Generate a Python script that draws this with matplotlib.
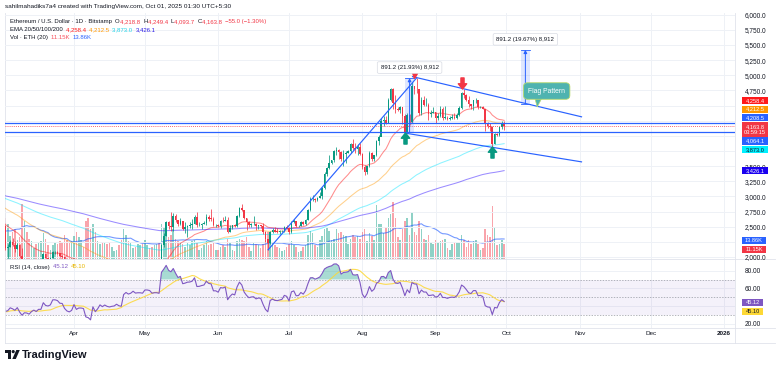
import numpy as np
import pandas as pd
import matplotlib
matplotlib.use("Agg")
import matplotlib.pyplot as plt
from matplotlib.path import Path
from matplotlib.patches import Rectangle, Polygon, Ellipse
from matplotlib.lines import Line2D

plt.rcParams['font.family'] = ['Liberation Sans', 'DejaVu Sans']

# ------------------------------------------------------------------ data
start_date = "2025-02-14"
first_open = 2680.0

closes = [
    # Feb 14-28
    2725, 2690, 2660, 2745, 2670, 2715, 2740, 2660, 2765, 2820, 2510, 2490, 2340, 2310, 2240,
    # Mar
    2220, 2520, 2150, 2170, 2240, 2200, 2140, 2200, 2020, 1865, 1920, 1910, 1860, 1910, 1940, 1890,
    1930, 1930, 2055, 1980, 1965, 1985, 2080, 2080, 2065, 2010, 2005, 1895, 1830, 1805, 1825,
    # Apr
    1905, 1795, 1815, 1815, 1805, 1580, 1555, 1475, 1670, 1520, 1570, 1645, 1595, 1625, 1590,
    1575, 1585, 1590, 1615, 1585, 1575, 1755, 1795, 1770, 1785, 1820, 1795, 1800, 1800, 1795,
    # May
    1840, 1840, 1835, 1810, 1815, 1815, 1810, 2205, 2345, 2580, 2515, 2495, 2680, 2610, 2545, 2590,
    2470, 2490, 2520, 2525, 2550, 2660, 2525, 2530, 2550, 2565, 2665, 2635, 2630, 2530, 2530,
    # Jun
    2510, 2600, 2595, 2615, 2420, 2480, 2525, 2510, 2680, 2815, 2770, 2645, 2580, 2530, 2545,
    2550, 2510, 2525, 2520, 2410, 2295, 2230, 2420, 2445, 2420, 2415, 2425, 2435, 2500, 2485,
    # Jul
    2410, 2570, 2590, 2510, 2515, 2570, 2545, 2610, 2770, 2955, 2960, 2940, 2970, 3010, 3140, 3370,
    3475, 3545, 3595, 3755, 3765, 3740, 3625, 3705, 3720, 3745, 3870, 3795, 3790, 3810, 3700,
    # Aug
    3485, 3400, 3500, 3720, 3610, 3680, 3910, 3975, 4250, 4260, 4220, 4600, 4770, 4550, 4440, 4430,
    4480, 4320, 4070, 4340, 4230, 4830, 4780, 4770, 4380, 4600, 4510, 4510, 4360, 4370, 4390,
    # Sep
    4300, 4330, 4450, 4300, 4300, 4270, 4300, 4310, 4300, 4350, 4460, 4710, 4670, 4600, 4520,
    4500, 4590, 4590, 4470, 4480, 4450, 4200, 4160, 4150, 3870, 4030, 4010, 4140, 4218.8, 4163.8,
]
highs = [
    2790, 2740, 2720, 2845, 2760, 2740, 2770, 2850, 2780, 2850, 2830, 2540, 2530, 2370, 2290,
    2275, 2550, 2525, 2220, 2280, 2320, 2260, 2230, 2210, 2150, 1960, 1950, 1925, 1940, 1950, 1940,
    1950, 1945, 2065, 2060, 2000, 2000, 2095, 2105, 2095, 2065, 2040, 2020, 1915, 1840, 1860,
    1925, 1955, 1825, 1850, 1820, 1815, 1640, 1620, 1690, 1670, 1590, 1655, 1690, 1690, 1660,
    1600, 1610, 1600, 1620, 1615, 1660, 1770, 1830, 1800, 1830, 1830, 1830, 1820, 1835, 1815,
    1875, 1860, 1850, 1845, 1830, 1830, 1850, 2215, 2400, 2595, 2595, 2735, 2725, 2715, 2615, 2650,
    2600, 2580, 2525, 2570, 2635, 2690, 2735, 2580, 2560, 2595, 2715, 2690, 2790, 2660, 2545,
    2540, 2610, 2660, 2680, 2660, 2525, 2535, 2540, 2690, 2830, 2880, 2780, 2645, 2590, 2555,
    2680, 2560, 2535, 2530, 2555, 2425, 2300, 2435, 2485, 2490, 2475, 2450, 2450, 2505, 2530,
    2495, 2600, 2635, 2590, 2525, 2590, 2595, 2620, 2785, 2995, 3020, 2970, 2995, 3080, 3160, 3410,
    3480, 3680, 3600, 3765, 3810, 3780, 3750, 3760, 3745, 3760, 3880, 3940, 3880, 3860, 3885,
    3720, 3515, 3510, 3745, 3730, 3690, 3930, 4020, 4300, 4330, 4330, 4630, 4790, 4785, 4670, 4475,
    4490, 4430, 4355, 4380, 4360, 4890, 4830, 4955, 4770, 4635, 4665, 4620, 4550, 4420, 4480,
    4390, 4370, 4490, 4480, 4490, 4320, 4320, 4360, 4380, 4380, 4485, 4720, 4770, 4690, 4650,
    4530, 4600, 4630, 4595, 4500, 4490, 4450, 4230, 4220, 4160, 4050, 4050, 4150, 4240, 4249.4,
]
lows = [
    2660, 2670, 2650, 2650, 2590, 2660, 2700, 2620, 2650, 2750, 2490, 2310, 2300, 2250, 2075,
    2170, 2145, 2110, 1990, 2160, 2180, 2080, 2130, 1990, 1810, 1755, 1825, 1830, 1860, 1905, 1870,
    1880, 1890, 1920, 1960, 1945, 1960, 1980, 2055, 2045, 1995, 1985, 1855, 1815, 1780, 1790,
    1820, 1770, 1760, 1775, 1780, 1545, 1410, 1450, 1385, 1475, 1505, 1545, 1570, 1605, 1585,
    1540, 1565, 1575, 1585, 1565, 1570, 1570, 1740, 1735, 1760, 1780, 1785, 1740, 1790, 1760,
    1790, 1820, 1825, 1795, 1790, 1760, 1790, 1805, 2170, 2340, 2470, 2430, 2430, 2570, 2510, 2530,
    2450, 2390, 2325, 2485, 2465, 2545, 2500, 2505, 2465, 2540, 2535, 2600, 2600, 2505, 2500,
    2490, 2480, 2585, 2595, 2390, 2410, 2470, 2490, 2495, 2660, 2755, 2620, 2440, 2500, 2500,
    2530, 2450, 2455, 2485, 2385, 2250, 2110, 2215, 2390, 2410, 2395, 2385, 2420, 2420, 2470,
    2375, 2390, 2565, 2490, 2490, 2515, 2530, 2525, 2605, 2765, 2920, 2910, 2930, 2970, 2960, 3130,
    3330, 3460, 3530, 3570, 3680, 3620, 3580, 3510, 3560, 3710, 3720, 3770, 3720, 3680, 3680,
    3460, 3355, 3370, 3490, 3580, 3590, 3670, 3850, 3990, 4170, 4190, 4215, 4580, 4450, 4380, 4410,
    4380, 4200, 4060, 4065, 4200, 4215, 4690, 4710, 4345, 4350, 4500, 4490, 4260, 4315, 4380,
    4220, 4260, 4310, 4260, 4270, 4260, 4255, 4280, 4270, 4285, 4330, 4440, 4630, 4580, 4470,
    4440, 4420, 4550, 4450, 4460, 4440, 4080, 4130, 4080, 3820, 3860, 3990, 3990, 4110, 4093.7,
]
volumes_k = [
    12, 8, 9, 14, 15, 11, 12, 25, 13, 10, 28, 35, 30, 24, 33,
    22, 40, 30, 26, 17, 20, 22, 14, 16, 41, 28, 20, 15, 13, 8, 11, 12, 13, 19, 15, 10, 7, 10, 12, 11,
    13, 12, 18, 14, 12, 13,
    17, 20, 16, 14, 9, 28, 30, 22, 26, 20, 13, 11, 12, 12, 11, 12, 9, 6, 7, 10, 14, 22, 18, 13, 12,
    8, 9, 11, 10, 11,
    14, 10, 8, 9, 10, 11, 12, 26, 24, 20, 16, 18, 22, 15, 13, 12, 11, 9, 12, 10, 13, 14, 12, 7, 8,
    10, 13, 10, 11, 12, 7,
    7, 9, 10, 9, 15, 12, 7, 6, 13, 15, 14, 13, 16, 9, 6, 12, 11, 10, 8, 11, 14, 20, 18, 12, 10,
    9, 8, 6, 7, 9,
    11, 13, 10, 9, 5, 6, 9, 10, 18, 21, 19, 10, 9, 14, 17, 22, 23, 21, 14, 15, 22, 19, 20, 18, 17,
    11, 15, 18, 16, 17, 15,
    20, 22, 13, 19, 17, 14, 40, 26, 26, 19, 24, 30, 33, 42, 30, 16, 14, 22, 28, 30, 18, 35, 20, 18,
    28, 22, 15, 14, 18, 12, 11,
    14, 12, 13, 14, 15, 8, 7, 11, 12, 12, 12, 18, 14, 9, 14, 11, 13, 14, 11, 7, 8, 22, 18, 16, 39,
    24, 10, 11, 14, 11.15,
]

ema_lengths = [20, 50, 100, 200]
ema_seeds = [2900.0, 3100.0, 3150.0, 3100.0]
ema_colors = ["#ff0000", "#ff9800", "#00e5ff", "#2200ff"]

month_starts = ["2025-04-01", "2025-05-01", "2025-06-01", "2025-07-01", "2025-08-01",
                "2025-09-01", "2025-10-01", "2025-11-01", "2025-12-01", "2026-01-01"]
month_labels = ["Apr", "May", "Jun", "Jul", "Aug", "Sep", "Oct", "Nov", "Dec", "2026"]

price_grid = list(range(2000, 6001, 250))
price_labels_shown = [2000, 2500, 2750, 3000, 3250, 3500, 4750, 5000, 5250, 5500, 5750, 6000]
rsi_grid = [20, 40, 60, 80]
rsi_labels_shown = [20, 60, 80]

# chart drawings: (date, price)
rising_line = [("2025-06-22", 2112.0), ("2025-08-24", 4958.0)]
flag_upper = [("2025-08-22", 4980.0), ("2025-11-02", 4312.0)]
flag_lower = [("2025-08-19", 4046.0), ("2025-11-02", 3569.0)]
support_levels = [4208.5, 4064.1]
last_price = 4163.8
range_boxes = [("2025-08-19", "2025-08-23", 4064.1, 4955.3, "891.2 (21.93%) 8,912"),
               ("2025-10-07", "2025-10-11", 4530.0, 5421.2, "891.2 (19.67%) 8,912")]
up_arrows = [("2025-08-19", 3965.0), ("2025-09-25", 3727.0)]
down_arrows = [("2025-09-12", 4873.0)]
peak_marker = ("2025-08-23", 5005.0)
callout = ("2025-10-18", 4740.0, "Flag Pattern")
callout_tail = [("2025-10-13", 4625.0), ("2025-10-16", 4625.0), ("2025-10-14", 4476.0)]

# ------------------------------------------------------------------ helpers
W, H = 780, 370
fig = plt.figure(figsize=(W / 100, H / 100), dpi=100, facecolor="white")


def fx(px):
    return px / W


def fy(py):
    return 1 - py / H


ref = pd.Timestamp("2025-04-01")


def dnum(s):
    return (pd.Timestamp(s) - ref).days


dates = pd.date_range(start_date, periods=len(closes), freq="D")
xd = np.asarray((dates - ref).days, dtype=float)
c = np.array(closes, float)
h = np.array(highs, float)
lo = np.array(lows, float)
o = np.concatenate([[first_open], c[:-1]])
v = np.array(volumes_k, float)
up = c >= o


def ema(values, n, seed):
    a = 2.0 / (n + 1)
    out = np.empty(len(values))
    e = seed
    for i, val in enumerate(values):
        e = e + a * (val - e)
        out[i] = e
    return out


def rsi_calc(values, n=14):
    d = np.diff(values)
    g = np.clip(d, 0, None)
    ls = np.clip(-d, 0, None)
    out = np.full(len(values), np.nan)
    ag = g[:n].mean()
    al = ls[:n].mean()
    out[n] = 100 - 100 / (1 + ag / al)
    for i in range(n + 1, len(values)):
        ag = (ag * (n - 1) + g[i - 1]) / n
        al = (al * (n - 1) + ls[i - 1]) / n
        out[i] = 100 - 100 / (1 + ag / al)
    return out


rsi = rsi_calc(c)
rsi_ma = pd.Series(rsi).rolling(14, min_periods=1).mean().values
vma = pd.Series(v).rolling(20, min_periods=1).mean().values

# ------------------------------------------------------------------ axes
PL, PR = 5, 735
MT, MB = 13, 259
RT, RB = 259, 328
XLIM = (-29.2, 279.7)

rect_main = [fx(PL), fy(MB), (PR - PL) / W, (MB - MT) / H]
vax = fig.add_axes(rect_main, zorder=1)
ax = fig.add_axes(rect_main, zorder=2, sharex=vax)
ax.patch.set_alpha(0)
rax = fig.add_axes([fx(PL), fy(RB), (PR - PL) / W, (RB - RT) / H], sharex=vax)

for a_ in (ax, vax, rax):
    for sp in a_.spines.values():
        sp.set_visible(False)

vax.set_xlim(*XLIM)
ax.set_ylim(1967, 6028)
vax.set_ylim(0, 182)
rax.set_ylim(15.4, 93.1)

GRID = "#eef1f6"
month_days = [dnum(m) for m in month_starts]
for md in month_days:
    vax.axvline(md, color=GRID, lw=0.7, zorder=0)
    rax.axvline(md, color=GRID, lw=0.7, zorder=0)
for p in price_grid:
    ax.axhline(p, color=GRID, lw=0.7, zorder=0)
for r in rsi_grid:
    rax.axhline(r, color=GRID, lw=0.7, zorder=0)

# ticks
vax.set_yticks([])
vax.tick_params(axis="x", length=0, labelbottom=False)
ax.tick_params(axis="x", length=0, labelbottom=False)
ax.yaxis.tick_right()
ax.set_yticks(price_grid)
ax.set_yticklabels([f"{p:,.1f}" if p in price_labels_shown else "" for p in price_grid])
ax.tick_params(axis="y", length=0, pad=7, labelsize=4.7, labelcolor="#131722")
rax.yaxis.tick_right()
rax.set_yticks(rsi_grid)
rax.set_yticklabels([f"{r:.2f}" if r in rsi_labels_shown else "" for r in rsi_grid])
rax.tick_params(axis="y", length=0, pad=7, labelsize=4.7, labelcolor="#131722")
rax.set_xticks(month_days)
rax.set_xticklabels(month_labels)
rax.tick_params(axis="x", length=0, pad=2.3, labelsize=4.6, labelcolor="#131722")
rax.get_xticklabels()[-1].set_fontweight("bold")

# ------------------------------------------------------------------ volume
UP, DN = "#089981", "#f23645"
vcols = np.where(up, UP, DN)
vax.bar(xd, v, width=0.65, color=vcols, alpha=0.45, lw=0, zorder=2)
vax.plot(xd, vma, color="#2962ff", lw=0.8, alpha=0.65, zorder=3)

# ------------------------------------------------------------------ EMAs
for n, seed, col in zip(ema_lengths, ema_seeds, ema_colors):
    ax.plot(xd, ema(c, n, seed), color=col, lw=0.75, alpha=0.45, zorder=2)

# ------------------------------------------------------------------ candles
ccols = np.where(up, UP, DN)
ax.vlines(xd, lo, h, colors=ccols, lw=0.55, zorder=3)
body = np.maximum(np.abs(c - o), 6)
ax.bar(xd, body, bottom=np.minimum(o, c), width=0.68, color=ccols, lw=0, zorder=4)

# ------------------------------------------------------------------ levels & drawings
BLUE = "#2962ff"
for lv in support_levels:
    ax.axhline(lv, color=BLUE, lw=0.9, zorder=5)
ax.axhline(last_price, color=DN, lw=0.6, ls=(0, (1, 1.5)), zorder=5)

for line in (rising_line, flag_upper, flag_lower):
    ax.plot([dnum(line[0][0]), dnum(line[1][0])], [line[0][1], line[1][1]],
            color=BLUE, lw=0.85, zorder=6, solid_capstyle="butt")

for d1, d2, p1, p2, lab in range_boxes:
    x1, x2 = dnum(d1), dnum(d2)
    ax.add_patch(Rectangle((x1, p1), x2 - x1, p2 - p1, fc=BLUE, alpha=0.15, lw=0, zorder=5))
    ax.plot([x1, x2], [p1, p1], color=BLUE, lw=0.6, zorder=6)
    ax.plot([x1, x2], [p2, p2], color=BLUE, lw=0.6, zorder=6)
    xm = (x1 + x2) / 2
    ax.annotate("", xy=(xm, p2), xytext=(xm, p1),
                arrowprops=dict(arrowstyle="-|>", color=BLUE, lw=0.7, mutation_scale=5,
                                shrinkA=0, shrinkB=0), zorder=6)
    ax.annotate(lab, xy=(xm, p2), xytext=(0, 7.5), textcoords="offset points",
                ha="center", va="center", fontsize=4.3, color="#131722", zorder=9,
                bbox=dict(boxstyle="round,pad=0.55,rounding_size=0.25", fc="white",
                          ec="#d8dbe3", lw=0.5))

up_path = Path([(0, 1), (0.75, 0.05), (0.28, 0.05), (0.28, -1), (-0.28, -1),
                (-0.28, 0.05), (-0.75, 0.05), (0, 1)], closed=True)
down_path = Path([(xv, -yv) for xv, yv in up_path.vertices], closed=True)
for dt, p in up_arrows:
    ax.plot([dnum(dt)], [p], marker=up_path, ms=8, color=UP, ls="none", zorder=7)
for dt, p in down_arrows:
    ax.plot([dnum(dt)], [p], marker=down_path, ms=8, color=DN, ls="none", zorder=7)
ax.plot([dnum(peak_marker[0])], [peak_marker[1]], marker="v", ms=3.6, color=DN,
        ls="none", zorder=7)

ax.add_patch(Polygon([(dnum(dt), p) for dt, p in callout_tail], closed=True,
                     fc="#4fb3b0", ec="#b8d96c", lw=0.5, zorder=8))
ax.text(dnum(callout[0]), callout[1], callout[2], ha="center", va="center", fontsize=4.9,
        color="white", zorder=9,
        bbox=dict(boxstyle="round,pad=0.7,rounding_size=0.6", fc="#4fb3b0", ec="#b8d96c", lw=0.6))

# ------------------------------------------------------------------ RSI pane
PURP = "#7e57c2"
rax.axhspan(30, 70, color=PURP, alpha=0.08, lw=0, zorder=1)
for lvl in (70, 50, 30):
    rax.axhline(lvl, color="#9598a1", lw=0.5, ls=(0, (2, 2)), zorder=2)
rax.fill_between(xd, rsi, 70, where=rsi > 70, interpolate=True, color=UP, alpha=0.35,
                 lw=0, zorder=2)
rax.plot(xd, rsi_ma, color="#fdd835", lw=0.8, alpha=0.85, zorder=3)
rax.plot(xd, rsi, color=PURP, lw=0.8, zorder=4)

# ------------------------------------------------------------------ frame lines
def hline_px(y, x0, x1, col="#e0e3eb", lw=0.6):
    fig.add_artist(Line2D([fx(x0), fx(x1)], [fy(y), fy(y)], transform=fig.transFigure,
                          color=col, lw=lw))


def vline_px(x, y0, y1, col="#e0e3eb", lw=0.6):
    fig.add_artist(Line2D([fx(x), fx(x)], [fy(y0), fy(y1)], transform=fig.transFigure,
                          color=col, lw=lw))


hline_px(MB, PL, 775)
hline_px(RB, PL, 775)
hline_px(343, PL, 775)
vline_px(PL, MT, 343)
vline_px(PR, MT, 343)

# ------------------------------------------------------------------ tags on price scale
def tag(yc, text, bg, fg, w=26, hgt=7.2):
    fig.add_artist(Rectangle((fx(742), fy(yc + hgt / 2)), w / W, hgt / H,
                             transform=fig.transFigure, fc=bg, ec="none", zorder=20))
    fig.text(fx(742 + w / 2), fy(yc), text, ha="center", va="center", fontsize=4.1,
             color=fg, zorder=21, linespacing=1.15)


tag(100.7, "4,258.4", "#ff1a1a", "white")
tag(109.2, "4,212.5", "#ff9800", "white")
tag(117.6, "4,208.5", "#2962ff", "white")
tag(129.5, "4,163.8\n03:59:15", "#f23645", "white", hgt=15)
tag(141.1, "4,064.1", "#2962ff", "white")
tag(149.5, "3,873.0", "#00f0ff", "#131722")
tag(170.6, "3,426.1", "#1a00f0", "white")
tag(240.6, "13.86K", "#2962ff", "white", w=24)
tag(249.6, "11.15K", "#f23645", "white", w=24)
tag(302.5, "45.12", "#7e57c2", "white", w=21)
tag(311.8, "45.10", "#fdd835", "#131722", w=21)

# ------------------------------------------------------------------ header texts
renderer = fig.canvas.get_renderer()
DARK = "#131722"


def runs(x, y, parts, size):
    for s, col in parts:
        t = fig.text(fx(x), fy(y), s, color=col, fontsize=size, ha="left", va="center",
                     zorder=22)
        x += t.get_window_extent(renderer).width


runs(5, 6.5, [("sahilmahadiks7a4 created with TradingView.com, Oct 01, 2025 01:30 UTC+5:30", DARK)], 4.6)
runs(10, 21.5, [("Ethereum / U.S. Dollar · 1D · Bitstamp  ", DARK), ("O", DARK), ("4,218.8  ", DN),
                ("H", DARK), ("4,249.4  ", DN), ("L", DARK), ("4,093.7  ", DN), ("C", DARK),
                ("4,163.8  ", DN), ("−55.0 (−1.30%)", DN)], 4.3)
runs(10, 29.5, [("EMA 20/50/100/200  ", DARK), ("4,258.4  ", "#ff1a1a"), ("4,212.5  ", "#ff9800"),
                ("3,873.0  ", "#1fd1e6"), ("3,426.1", "#2a1ae6")], 4.3)
runs(10, 37.5, [("Vol · ETH (20)  ", DARK), ("11.15K  ", "#f7525f"), ("13.86K", "#2962ff")], 4.3)
runs(10, 267, [("RSI (14, close)  ", DARK), ("45.12  ", PURP), ("45.10", "#e8b600")], 4.3)

# ------------------------------------------------------------------ TradingView logo
def poly_px(pts, col):
    fig.add_artist(Polygon([(fx(px), fy(py)) for px, py in pts], closed=True,
                           transform=fig.transFigure, fc=col, ec="none"))


poly_px([(5, 350), (11, 350), (11, 359), (8, 359), (8, 353), (5, 353)], DARK)
fig.add_artist(Ellipse((fx(13.2), fy(351.6)), 3.2 / W, 3.2 / H, transform=fig.transFigure,
                       fc=DARK, ec="none"))
poly_px([(16.3, 350), (19.8, 350), (15.8, 359), (12.3, 359)], DARK)
fig.text(fx(22), fy(354.5), "TradingView", fontsize=8, fontweight="bold", color=DARK,
         ha="left", va="center")

fig.savefig("out.png", dpi=100, facecolor="white")
